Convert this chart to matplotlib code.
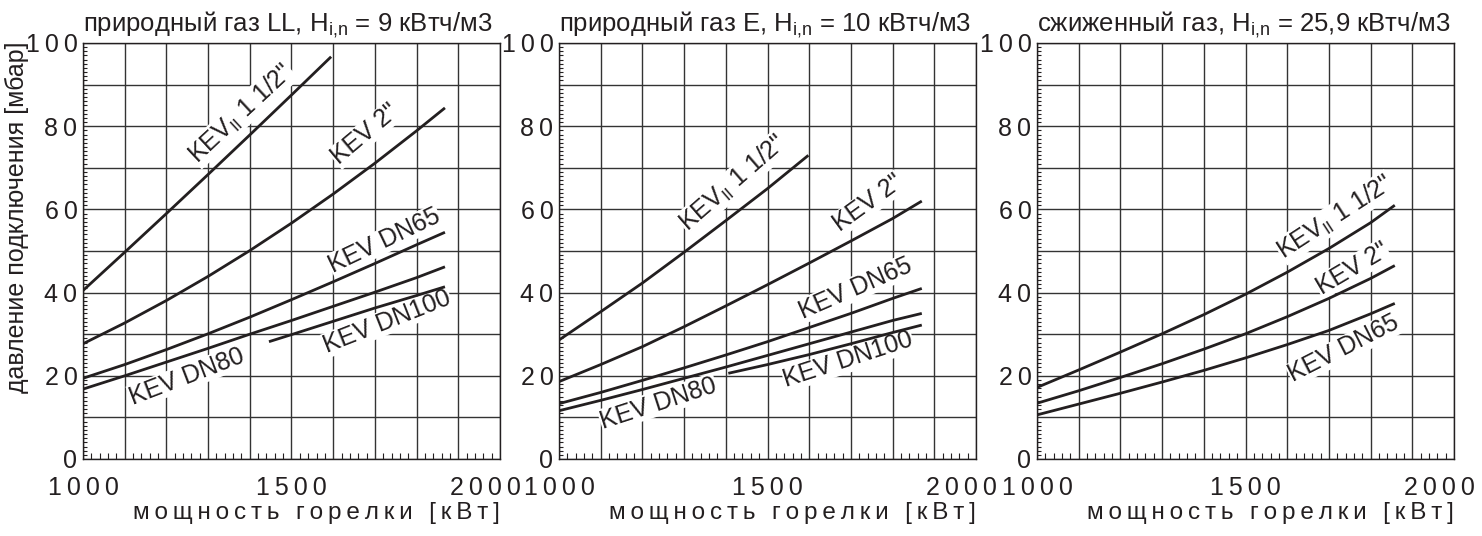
import numpy as np
import matplotlib
matplotlib.use("Agg")
import matplotlib.pyplot as plt
from matplotlib.ticker import MultipleLocator, FuncFormatter
from matplotlib.transforms import ScaledTranslation

plt.rcParams['font.family'] = ['Liberation Sans', 'DejaVu Sans']
plt.rcParams['mathtext.fontset'] = 'custom'
plt.rcParams['mathtext.rm'] = 'Liberation Sans'
plt.rcParams['mathtext.it'] = 'Liberation Sans:italic'

INK = '#231f20'

# --- данные: природный газ LL ---
ll_x_15 = [1000, 1100, 1200, 1300, 1400, 1500, 1595]
ll_kev15 = [40.5, 49.7, 59.0, 68.4, 77.9, 87.5, 96.7]
ll_x = [1000, 1100, 1200, 1300, 1400, 1500, 1600, 1700, 1800, 1868]
ll_kev2 = [27.7, 32.7, 38.1, 43.9, 50.1, 56.7, 63.7, 71.1, 78.9, 84.4]
ll_dn65 = [19.4, 22.7, 26.3, 30.1, 34.1, 38.3, 42.6, 47.0, 51.5, 54.5]
ll_dn80 = [16.8, 20.0, 23.3, 26.6, 30.0, 33.3, 36.7, 40.1, 43.6, 46.2]
ll_x_100 = [1446, 1500, 1600, 1700, 1800, 1868]
ll_dn100 = [28.2, 29.9, 33.1, 36.3, 39.3, 41.4]

# --- данные: природный газ E ---
e_x_15 = [1000, 1100, 1200, 1300, 1400, 1500, 1598]
e_kev15 = [28.6, 35.4, 42.3, 49.7, 57.3, 65.0, 73.0]
e_x = [1000, 1100, 1200, 1300, 1400, 1500, 1600, 1700, 1800, 1870]
e_kev2 = [18.6, 22.7, 27.0, 31.8, 36.8, 41.9, 47.1, 52.4, 57.8, 62.0]
e_dn65 = [13.3, 16.0, 18.9, 21.9, 25.0, 28.2, 31.6, 35.0, 38.6, 41.0]
e_dn80 = [11.6, 14.1, 16.7, 19.4, 22.1, 24.9, 27.7, 30.5, 33.3, 35.0]
e_x_100 = [1406, 1500, 1600, 1700, 1800, 1870]
e_dn100 = [20.6, 22.7, 25.1, 27.7, 30.4, 32.2]

# --- данные: сжиженный газ ---
p_x = [1000, 1100, 1200, 1300, 1400, 1500, 1600, 1700, 1800, 1858]
p_kev15 = [17.2, 21.4, 25.7, 30.1, 34.7, 39.6, 44.9, 50.6, 56.8, 61.0]
p_kev2 = [13.4, 16.4, 19.6, 22.9, 26.4, 30.1, 34.2, 38.6, 43.4, 46.5]
p_dn65 = [10.6, 13.2, 15.8, 18.5, 21.3, 24.3, 27.5, 30.9, 34.9, 37.4]

titles = [r'природный газ LL, H$_{\mathrm{i{,}n}}$ = 9 кВтч/м3',
          r'природный газ E, H$_{\mathrm{i{,}n}}$ = 10 кВтч/м3',
          r'сжиженный газ, H$_{\mathrm{i{,}n}}$ = 25,9 кВтч/м3']

KEV15 = r'KEV$_{\mathrm{II}}$ 1 1/2"'
KEV2 = 'KEV 2"'

panels = [
    [(ll_x_15, ll_kev15), (ll_x, ll_kev2), (ll_x, ll_dn65), (ll_x, ll_dn80), (ll_x_100, ll_dn100)],
    [(e_x_15, e_kev15), (e_x, e_kev2), (e_x, e_dn65), (e_x, e_dn80), (e_x_100, e_dn100)],
    [(p_x, p_kev15), (p_x, p_kev2), (p_x, p_dn65)],
]

# подписи кривых: текст, x, y, угол
labels = [
    [(KEV15, 1379, 83, 43), (KEV2, 1676, 78, 40), ('KEV DN65', 1723, 52.5, 25.5),
     ('KEV DN80', 1249, 19.8, 21), ('KEV DN100', 1730, 33, 21.5)],
    [(KEV15, 1418, 66.3, 41), (KEV2, 1742, 61.5, 36), ('KEV DN65', 1710, 41.0, 23.5),
     ('KEV DN80', 1238, 13.4, 18), ('KEV DN100', 1694, 23.8, 18)],
    [(KEV15, 1716, 58.1, 33), (KEV2, 1756, 45.7, 30.5), ('KEV DN65', 1736, 26.5, 27)],
]

THIN = '\u2009'


def spaced(s, sep=THIN):
    return sep.join(s)


xlabel = spaced('мощность горелки') + THIN + ' ' + THIN + spaced('[кВт]')

fig = plt.figure(figsize=(14.82, 5.36), dpi=100)
lefts = [83, 559, 1037]
W, H = 1482, 536
axes = []

for i in range(3):
    ax = fig.add_axes([lefts[i] / W, 77 / H, 417 / W, 416 / H])
    axes.append(ax)
    ax.set_xlim(1000, 2000)
    ax.set_ylim(0, 100)
    ax.xaxis.set_major_locator(MultipleLocator(100))
    ax.xaxis.set_minor_locator(MultipleLocator(20))
    ax.yaxis.set_major_locator(MultipleLocator(10))
    ax.yaxis.set_minor_locator(MultipleLocator(1))
    ax.xaxis.set_major_formatter(FuncFormatter(
        lambda v, p: spaced(f'{v:.0f}') if round(v) % 500 == 0 else ''))
    ax.yaxis.set_major_formatter(FuncFormatter(
        lambda v, p: spaced(f'{v:.0f}') if round(v) % 20 == 0 else ''))
    ax.grid(True, which='major', color='#333333', lw=1.0)
    ax.tick_params(which='both', direction='in', colors=INK, labelsize=18)
    ax.tick_params(which='major', length=0)
    ax.tick_params(axis='x', which='major', pad=12)
    ax.tick_params(axis='y', which='major', pad=4)
    ax.tick_params(which='minor', length=4, width=0.8)
    ax.tick_params(axis='y', which='minor', length=3)
    for s in ax.spines.values():
        s.set_color(INK)
        s.set_linewidth(1.0)

    for xs, ys in panels[i]:
        ax.plot(xs, ys, color=INK, lw=2.0, solid_capstyle='butt', zorder=6)

    for txt, lx, ly, rot in labels[i]:
        ax.text(lx, ly, txt, rotation=rot, rotation_mode='anchor', ha='center', va='center',
                fontsize=18, color=INK, zorder=5,
                bbox=dict(facecolor='white', edgecolor='none', pad=0.3))

    ax.text(0.0, 1 + 12 / 416, titles[i], transform=ax.transAxes, ha='left', va='baseline',
            fontsize=18.5, color=INK)
    ax.set_xlabel(xlabel, loc='right', fontsize=17.5, color=INK, labelpad=2)

fig.text(17 / W, 1 - 217 / H, 'давление подключения [мбар]', rotation=90,
         ha='center', va='center', fontsize=18, color=INK)

# сдвиг подписи "2000" влево, как в оригинале
fig.canvas.draw()
shift = ScaledTranslation(-15 / 100, 0, fig.dpi_scale_trans)
for ax in axes:
    for lbl in ax.get_xticklabels():
        if lbl.get_text().startswith('2'):
            lbl.set_transform(lbl.get_transform() + shift)

fig.savefig('out.png', dpi=100)
